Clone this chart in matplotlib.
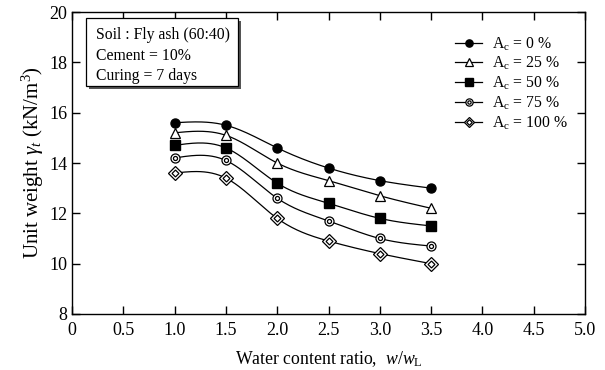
import numpy as np
import matplotlib.pyplot as plt
from matplotlib.patches import FancyBboxPatch

plt.rcParams['font.family'] = 'Liberation Serif'
plt.rcParams['mathtext.fontset'] = 'custom'
plt.rcParams['mathtext.rm'] = 'Liberation Serif'
plt.rcParams['mathtext.it'] = 'Liberation Serif:italic'

# water content ratio w/wL
wr = [1.0, 1.5, 2.0, 2.5, 3.0, 3.5]

# unit weight (kN/m3) for each Ac
ac_0 = [15.6, 15.5, 14.6, 13.8, 13.3, 13.0]
ac_25 = [15.2, 15.1, 14.0, 13.3, 12.7, 12.2]
ac_50 = [14.7, 14.6, 13.2, 12.4, 11.8, 11.5]
ac_75 = [14.2, 14.1, 12.6, 11.7, 11.0, 10.7]
ac_100 = [13.6, 13.4, 11.8, 10.9, 10.4, 10.0]

labels = ['0', '25', '50', '75', '100']


def natural_spline(x, y, n=200):
    x = np.asarray(x, float)
    y = np.asarray(y, float)
    m = len(x)
    h = np.diff(x)
    A = np.zeros((m, m))
    b = np.zeros(m)
    A[0, 0] = A[-1, -1] = 1
    for i in range(1, m - 1):
        A[i, i - 1] = h[i - 1]
        A[i, i] = 2 * (h[i - 1] + h[i])
        A[i, i + 1] = h[i]
        b[i] = 6 * ((y[i + 1] - y[i]) / h[i] - (y[i] - y[i - 1]) / h[i - 1])
    M = np.linalg.solve(A, b)
    xs = np.linspace(x[0], x[-1], n)
    idx = np.clip(np.searchsorted(x, xs) - 1, 0, m - 2)
    x0, x1 = x[idx], x[idx + 1]
    hi = h[idx]
    ys = (M[idx] * (x1 - xs) ** 3 / (6 * hi) + M[idx + 1] * (xs - x0) ** 3 / (6 * hi)
          + (y[idx] / hi - M[idx] * hi / 6) * (x1 - xs)
          + (y[idx + 1] / hi - M[idx + 1] * hi / 6) * (xs - x0))
    return xs, ys


fig = plt.figure(figsize=(6.05, 3.7), dpi=100)
ax = fig.add_axes([72 / 605, 56 / 370, 513 / 605, 302 / 370])

series = [ac_0, ac_25, ac_50, ac_75, ac_100]
handles = []
ms = 6.5
for vals, lab in zip(series, labels):
    xs, ys = natural_spline(wr, vals)
    ax.plot(xs, ys, color='black', lw=0.9, zorder=2)
    if lab == '0':
        h = ax.plot(wr, vals, 'o', color='black', ms=ms, zorder=3)[0]
    elif lab == '25':
        h = ax.plot(wr, vals, '^', mfc='white', mec='black', mew=0.9, ms=ms + 0.5, zorder=3)[0]
    elif lab == '50':
        h = ax.plot(wr, vals, 's', color='black', ms=ms, zorder=3)[0]
    elif lab == '75':
        h1 = ax.plot(wr, vals, 'o', mfc='white', mec='black', mew=0.9, ms=ms, zorder=3)[0]
        h2 = ax.plot(wr, vals, 'o', mfc='white', mec='black', mew=0.9, ms=ms * 0.45, zorder=4)[0]
        h = (h1, h2)
    else:
        h1 = ax.plot(wr, vals, 'D', mfc='white', mec='black', mew=0.9, ms=ms + 0.5, zorder=3)[0]
        h2 = ax.plot(wr, vals, 'D', mfc='white', mec='black', mew=0.9, ms=(ms + 0.5) * 0.5, zorder=4)[0]
        h = (h1, h2)
    # legend entries show a short line through the marker
    line = ax.plot([], [], color='black', lw=0.9)[0]
    if isinstance(h, tuple):
        handles.append((line,) + h)
    else:
        handles.append((line, h))

ax.legend(handles, [r'A$_\mathrm{c}$ = %s %%' % l for l in labels],
          loc='upper left', bbox_to_anchor=(0.72, 0.97), frameon=False,
          fontsize=11.3, handlelength=1.7, handletextpad=0.6, labelspacing=0.15,
          markerscale=0.8)

ax.set_xlim(0, 5)
ax.set_ylim(8, 20)
ax.set_xticks(np.arange(0, 5.01, 0.5))
ax.set_xticklabels(['0'] + ['%.1f' % v for v in np.arange(0.5, 5.01, 0.5)])
ax.set_yticks(range(8, 21, 2))
ax.tick_params(direction='in', top=True, right=True, length=6, width=1, labelsize=13)
ax.tick_params(axis='x', pad=6)
for s in ax.spines.values():
    s.set_linewidth(1)

ax.set_xlabel(r'Water content ratio,  $w/w_\mathrm{L}$', fontsize=12.8, labelpad=7)
ax.set_ylabel(r'Unit weight $\gamma_t$ (kN/m$^3$)', fontsize=15, labelpad=2)

# info box with drop shadow
bx, by, bw, bh = 0.027, 0.755, 0.297, 0.225
shadow = FancyBboxPatch((bx + 0.006, by - 0.010), bw, bh, boxstyle='square,pad=0',
                        transform=ax.transAxes, fc='#555555', ec='none', zorder=5)
box = FancyBboxPatch((bx, by), bw, bh, boxstyle='square,pad=0',
                     transform=ax.transAxes, fc='white', ec='black', lw=0.9, zorder=6)
ax.add_patch(shadow)
ax.add_patch(box)
ax.text(bx + 0.02, by + bh - 0.03, 'Soil : Fly ash (60:40)\nCement = 10%\nCuring = 7 days',
        transform=ax.transAxes, va='top', ha='left', fontsize=11.3, linespacing=1.38, zorder=7)

fig.savefig('out.png', dpi=100)
